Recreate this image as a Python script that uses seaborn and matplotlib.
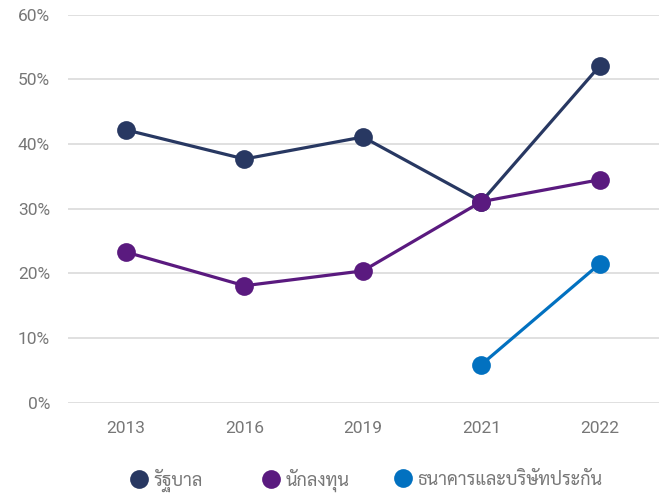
import matplotlib
matplotlib.use("Agg")
import matplotlib.pyplot as plt
import seaborn as sns
import pandas as pd
from matplotlib.ticker import FuncFormatter, MultipleLocator
from matplotlib.lines import Line2D

years = ["2013", "2016", "2019", "2021", "2022"]
government = [42.2, 37.7, 41.1, 31.1, 52.1]
investors = [23.3, 18.1, 20.4, 31.1, 34.5]
banks = [None, None, None, 5.9, 21.5]
series_names = ["รัฐบาล", "นักลงทุน", "ธนาคารและบริษัทประกัน"]
colors = ["#283862", "#5A1A7F", "#0271C0"]

sns.set_theme(style="white")
plt.rcParams["font.family"] = ["Roboto", "Sarabun", "DejaVu Sans"]

rows = []
for name, vals in zip(series_names, [government, investors, banks]):
    for y, v in zip(years, vals):
        if v is not None:
            rows.append({"year": y, "value": v, "series": name})
df = pd.DataFrame(rows)
df["x"] = df["year"].map({y: i for i, y in enumerate(years)})

W, H = 664, 493
fig, ax = plt.subplots(figsize=(W / 100, H / 100), dpi=100)
fig.subplots_adjust(left=0.1024, right=0.9925, top=0.97, bottom=0.183)

sns.lineplot(data=df, x="x", y="value", hue="series", hue_order=series_names,
             palette=colors, marker="o", markersize=13.5, markeredgewidth=0,
             linewidth=2.3, ax=ax, legend=False)

ax.set_xlim(-0.49, len(years) - 0.5)
ax.set_ylim(0, 60)
ax.yaxis.set_major_locator(MultipleLocator(10))
ax.yaxis.set_major_formatter(FuncFormatter(lambda v, p: f"{v:.0f}%"))
ax.set_xticks(range(len(years)))
ax.set_xticklabels(years)
ax.set_xlabel("")
ax.set_ylabel("")
ax.grid(axis="y", color="#DDDDDD", linewidth=1.3)
ax.set_axisbelow(True)
for s in ax.spines.values():
    s.set_visible(False)
ax.tick_params(axis="both", colors="#777777", labelsize=12.5, length=0)
ax.tick_params(axis="x", pad=13)
ax.tick_params(axis="y", pad=13)

# legend: one entry per series, spaced along the bottom
centers = [139, 271, 403]
for c, name, cx in zip(colors, series_names, centers):
    h = Line2D([], [], marker="o", linestyle="", markersize=13.5,
               markerfacecolor=c, markeredgewidth=0)
    fig.legend([h], [name], loc="center left",
               bbox_to_anchor=((cx - 9) / W, 1 - 480 / H),
               frameon=False, prop={"family": ["Sarabun", "DejaVu Sans"], "size": 13},
               labelcolor="#777777", handlelength=1.0, handletextpad=0.3,
               borderpad=0, borderaxespad=0)

fig.savefig("out.png", dpi=100)
